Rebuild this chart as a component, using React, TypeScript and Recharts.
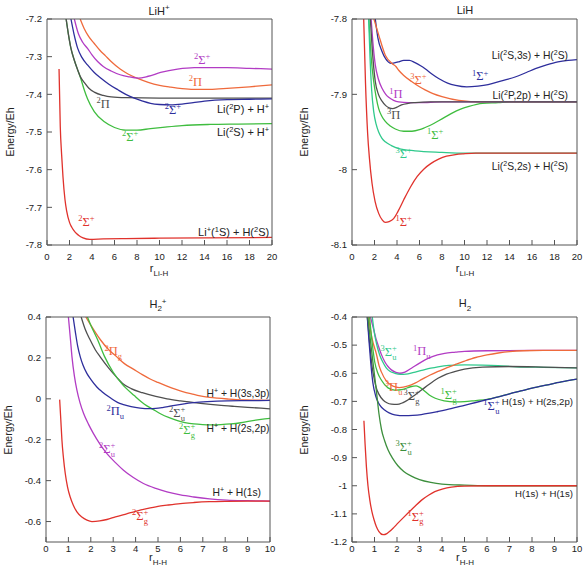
import React from 'react';
import { LineChart, Line, XAxis, YAxis, ReferenceDot } from 'recharts';

type Pt = [number, number];

// ---- LiH+ (r, E) ----
const lihpRed: Pt[] = [[1.07,-7.333],[1.18,-7.486],[1.3,-7.56],[1.42,-7.619],[1.6,-7.68],[1.75,-7.71],[2.0,-7.74],[2.2,-7.753],[2.5,-7.766],[2.8,-7.774],[3.2,-7.781],[3.8,-7.785],[5,-7.784],[7,-7.783],[10,-7.782],[14,-7.781],[20,-7.78]];
const lihpGreen: Pt[] = [[1.7,-7.2],[1.9,-7.24],[2.13,-7.278],[2.4,-7.307],[2.7,-7.333],[3.0,-7.358],[3.3,-7.387],[3.6,-7.412],[4.2,-7.446],[5.1,-7.473],[6.0,-7.488],[7.0,-7.495],[8.0,-7.495],[9.2,-7.491],[10.5,-7.487],[12,-7.483],[14.5,-7.48],[17,-7.479],[20,-7.478]];
const lihpGray: Pt[] = [[1.7,-7.2],[1.9,-7.24],[2.13,-7.278],[2.4,-7.307],[2.7,-7.333],[3.0,-7.355],[3.3,-7.368],[3.7,-7.383],[4.2,-7.394],[5,-7.403],[5.7,-7.407],[7,-7.409],[10,-7.41],[15,-7.41],[20,-7.41]];
const lihpBlue: Pt[] = [[2.13,-7.2],[2.4,-7.24],[2.73,-7.278],[3.1,-7.302],[3.6,-7.322],[4.2,-7.342],[4.8,-7.357],[5.5,-7.373],[6.3,-7.388],[7.0,-7.4],[7.76,-7.41],[8.5,-7.418],[9.2,-7.424],[10,-7.427],[11,-7.428],[12,-7.426],[13,-7.422],[14,-7.418],[16,-7.414],[18,-7.413],[20,-7.412]];
const lihpMagenta: Pt[] = [[2.43,-7.2],[2.8,-7.24],[3.2,-7.263],[3.6,-7.278],[4.0,-7.295],[4.5,-7.313],[5.0,-7.326],[5.7,-7.338],[6.5,-7.348],[7.2,-7.353],[8.1,-7.357],[9.0,-7.352],[10.1,-7.342],[11.6,-7.333],[13.1,-7.329],[16,-7.329],[18,-7.331],[20,-7.333]];
const lihpOrange: Pt[] = [[2.95,-7.2],[3.3,-7.225],[3.7,-7.246],[4.2,-7.265],[4.7,-7.283],[5.2,-7.298],[5.7,-7.313],[6.5,-7.333],[7.2,-7.346],[8.0,-7.357],[9.0,-7.368],[10,-7.376],[11,-7.381],[12,-7.385],[13,-7.387],[14,-7.387],[15,-7.386],[16,-7.384],[18,-7.38],[20,-7.375]];

// ---- LiH ----
const lihRed: Pt[] = [[1.04,-7.8],[1.2,-7.885],[1.39,-7.952],[1.55,-7.985],[1.78,-8.018],[2.05,-8.042],[2.37,-8.058],[2.7,-8.067],[2.96,-8.07],[3.3,-8.069],[3.7,-8.065],[4.1,-8.055],[4.6,-8.04],[5.2,-8.023],[5.8,-8.009],[6.4,-7.999],[7.0,-7.992],[7.7,-7.986],[8.4,-7.982],[9.2,-7.98],[9.9,-7.979],[11,-7.978],[20,-7.978]];
const lihTeal: Pt[] = [[1.48,-7.8],[1.6,-7.85],[1.75,-7.895],[1.93,-7.923],[2.15,-7.94],[2.37,-7.95],[2.65,-7.958],[2.96,-7.963],[3.5,-7.968],[4.15,-7.972],[5.6,-7.975],[8,-7.977],[10,-7.978],[20,-7.978]];
const lihGreen: Pt[] = [[1.5,-7.8],[1.7,-7.85],[1.93,-7.883],[2.15,-7.904],[2.37,-7.919],[2.65,-7.929],[2.96,-7.936],[3.4,-7.942],[3.85,-7.946],[4.6,-7.949],[5.33,-7.949],[6.0,-7.947],[6.5,-7.944],[7.1,-7.94],[7.7,-7.935],[8.3,-7.93],[8.9,-7.925],[9.6,-7.92],[10.4,-7.916],[11.6,-7.912],[13,-7.911],[14,-7.91],[20,-7.91]];
const lihGray: Pt[] = [[1.63,-7.8],[1.8,-7.84],[2.07,-7.883],[2.35,-7.9],[2.67,-7.909],[3.0,-7.915],[3.3,-7.918],[3.6,-7.919],[4.0,-7.917],[4.4,-7.914],[5.0,-7.912],[5.6,-7.911],[7,-7.91],[20,-7.91]];
const lihMagenta: Pt[] = [[1.7,-7.8],[1.85,-7.83],[2.07,-7.861],[2.35,-7.88],[2.67,-7.892],[3.0,-7.9],[3.26,-7.904],[3.7,-7.908],[4.15,-7.91],[5.0,-7.911],[6,-7.911],[8,-7.91],[20,-7.91]];
const lihOrange: Pt[] = [[1.95,-7.8],[2.37,-7.821],[2.96,-7.848],[3.56,-7.859],[3.9,-7.863],[4.15,-7.868],[4.6,-7.875],[5.3,-7.883],[6.0,-7.89],[6.5,-7.894],[7.2,-7.899],[8,-7.903],[9.5,-7.908],[11.6,-7.91],[20,-7.91]];
const lihBlue: Pt[] = [[2.07,-7.8],[2.3,-7.825],[2.67,-7.843],[3.0,-7.853],[3.5,-7.859],[4.1,-7.857],[4.6,-7.855],[5.1,-7.855],[5.6,-7.858],[6.1,-7.862],[6.5,-7.866],[7.1,-7.873],[7.7,-7.879],[8.5,-7.885],[9.2,-7.888],[10.2,-7.89],[11.2,-7.889],[12.1,-7.887],[13.3,-7.882],[14.5,-7.877],[15.5,-7.871],[16.3,-7.866],[17.3,-7.861],[18.3,-7.857],[19.2,-7.855],[20,-7.854]];

// ---- H2+ ----
const h2pRed: Pt[] = [[0.61,-0.004],[0.66,-0.1],[0.71,-0.2],[0.78,-0.29],[0.86,-0.365],[0.96,-0.43],[1.08,-0.48],[1.22,-0.52],[1.38,-0.553],[1.6,-0.578],[1.83,-0.593],[2.05,-0.6],[2.4,-0.597],[2.72,-0.59],[3.1,-0.577],[3.6,-0.562],[4.0,-0.55],[4.5,-0.537],[5.0,-0.526],[5.4,-0.52],[6.0,-0.512],[6.6,-0.507],[7.3,-0.503],[8.1,-0.501],[9,-0.5],[10,-0.5]];
const h2pMagenta: Pt[] = [[1.0,0.4],[1.1,0.28],[1.16,0.205],[1.27,0.11],[1.38,0.042],[1.52,-0.02],[1.68,-0.072],[1.9,-0.125],[2.12,-0.17],[2.4,-0.22],[2.72,-0.268],[3.1,-0.312],[3.46,-0.349],[3.9,-0.385],[4.35,-0.414],[4.9,-0.438],[5.4,-0.455],[6.0,-0.47],[6.6,-0.48],[7.3,-0.489],[8.07,-0.495],[9,-0.498],[10,-0.5]];
const h2pBlue: Pt[] = [[1.21,0.4],[1.32,0.32],[1.41,0.26],[1.53,0.205],[1.65,0.165],[1.83,0.123],[2.0,0.095],[2.27,0.058],[2.5,0.035],[2.87,0.005],[3.19,-0.017],[3.46,-0.028],[3.8,-0.038],[4.2,-0.045],[4.6,-0.048],[4.9,-0.047],[5.2,-0.043],[5.6,-0.035],[6.1,-0.026],[6.6,-0.019],[7.2,-0.014],[8.1,-0.01],[9,-0.009],[10,-0.008]];
const h2pGray: Pt[] = [[1.57,0.4],[1.75,0.34],[1.98,0.286],[2.2,0.24],[2.42,0.205],[2.8,0.15],[3.16,0.105],[3.42,0.075],[3.8,0.05],[4.3,0.03],[4.9,0.012],[5.4,0.0],[6.0,-0.01],[6.9,-0.022],[7.7,-0.031],[8.4,-0.037],[9.2,-0.043],[10,-0.049]];
const h2pGreen: Pt[] = [[1.85,0.4],[2.0,0.36],[2.3,0.29],[2.6,0.21],[3.0,0.13],[3.4,0.072],[3.94,0.016],[4.38,-0.025],[4.8,-0.053],[5.13,-0.074],[5.5,-0.092],[5.87,-0.107],[6.2,-0.116],[6.6,-0.123],[7.0,-0.126],[7.36,-0.127],[7.8,-0.126],[8.25,-0.123],[8.7,-0.117],[9.1,-0.109],[9.6,-0.101],[10,-0.096]];
const h2pOrange: Pt[] = [[1.78,0.4],[2.0,0.36],[2.42,0.29],[2.8,0.24],[3.16,0.205],[3.5,0.172],[3.9,0.145],[4.3,0.118],[4.65,0.097],[5.0,0.08],[5.4,0.062],[5.8,0.046],[6.14,0.034],[6.5,0.024],[6.88,0.014],[7.3,0.007],[7.65,0.003],[8.1,-0.001],[8.5,-0.004],[9.2,-0.006],[10,-0.008]];

// ---- H2 ----
const h2Red: Pt[] = [[0.53,-0.769],[0.58,-0.85],[0.64,-0.932],[0.71,-1.0],[0.79,-1.05],[0.88,-1.09],[0.98,-1.121],[1.08,-1.145],[1.19,-1.162],[1.38,-1.174],[1.55,-1.17],[1.68,-1.162],[1.85,-1.149],[2.04,-1.133],[2.25,-1.116],[2.49,-1.097],[2.8,-1.073],[3.08,-1.052],[3.4,-1.034],[3.68,-1.021],[4.05,-1.011],[4.42,-1.005],[5.0,-1.001],[6,-1.0],[10,-1.0]];
const h2DarkGreen: Pt[] = [[0.7,-0.4],[0.8,-0.47],[0.93,-0.56],[1.08,-0.66],[1.2,-0.745],[1.31,-0.8],[1.45,-0.84],[1.6,-0.872],[1.8,-0.902],[2.04,-0.929],[2.3,-0.949],[2.64,-0.966],[3.0,-0.978],[3.5,-0.988],[4.0,-0.994],[5,-0.998],[6,-1.0],[10,-1.0]];
const h2Green: Pt[] = [[0.78,-0.4],[0.88,-0.48],[1.01,-0.56],[1.15,-0.6],[1.31,-0.625],[1.6,-0.652],[1.9,-0.66],[2.27,-0.657],[2.6,-0.648],[2.85,-0.645],[3.05,-0.652],[3.25,-0.665],[3.45,-0.678],[3.7,-0.689],[4.1,-0.698],[4.6,-0.702],[5.0,-0.701],[5.5,-0.697],[6.0,-0.693],[6.5,-0.684],[7,-0.673],[7.5,-0.663],[8,-0.653],[8.7,-0.641],[9.3,-0.631],[10,-0.621]];
const h2Gray: Pt[] = [[0.68,-0.4],[0.78,-0.49],[0.9,-0.58],[1.0,-0.625],[1.08,-0.652],[1.2,-0.675],[1.38,-0.695],[1.55,-0.705],[1.75,-0.71],[2.0,-0.711],[2.25,-0.705],[2.5,-0.694],[2.8,-0.677],[3.1,-0.659],[3.45,-0.638],[3.82,-0.618],[4.2,-0.603],[4.56,-0.594],[5.0,-0.585],[5.8,-0.578],[7,-0.576],[8.5,-0.578],[10,-0.581]];
const h2Blue: Pt[] = [[0.68,-0.4],[0.75,-0.48],[0.83,-0.56],[0.93,-0.635],[1.05,-0.68],[1.16,-0.703],[1.3,-0.72],[1.45,-0.731],[1.65,-0.741],[1.9,-0.748],[2.34,-0.751],[2.7,-0.75],[3.08,-0.747],[3.45,-0.742],[3.82,-0.736],[4.4,-0.726],[5,-0.714],[5.5,-0.704],[6,-0.694],[6.5,-0.684],[7,-0.673],[7.5,-0.663],[8,-0.653],[8.7,-0.641],[9.3,-0.631],[10,-0.621]];
const h2Orange: Pt[] = [[0.74,-0.4],[0.85,-0.46],[0.95,-0.495],[1.08,-0.53],[1.2,-0.572],[1.31,-0.596],[1.53,-0.628],[1.82,-0.646],[2.1,-0.651],[2.5,-0.645],[2.8,-0.635],[3.1,-0.622],[3.45,-0.607],[3.8,-0.594],[4.2,-0.581],[4.56,-0.57],[5.0,-0.557],[5.5,-0.544],[6.0,-0.535],[6.5,-0.528],[7.0,-0.523],[7.6,-0.52],[8.5,-0.519],[10,-0.519]];
const h2Teal: Pt[] = [[0.9,-0.4],[1.01,-0.464],[1.12,-0.505],[1.23,-0.535],[1.38,-0.562],[1.53,-0.582],[1.7,-0.594],[1.9,-0.6],[2.15,-0.604],[2.4,-0.603],[2.7,-0.598],[3.1,-0.59],[3.5,-0.582],[3.82,-0.577],[4.3,-0.572],[5,-0.57],[5.8,-0.571],[6.5,-0.573],[7.3,-0.577],[8.5,-0.579],[10,-0.581]];
const h2Magenta: Pt[] = [[0.82,-0.4],[0.95,-0.44],[1.06,-0.475],[1.16,-0.5],[1.3,-0.532],[1.45,-0.558],[1.6,-0.576],[1.75,-0.588],[1.95,-0.597],[2.12,-0.6],[2.35,-0.596],[2.64,-0.582],[3.0,-0.564],[3.38,-0.547],[3.8,-0.535],[4.12,-0.529],[4.6,-0.525],[5,-0.522],[6,-0.52],[8,-0.519],[10,-0.519]];

// ---- axes ----
const rTicks20 = [0, 2, 4, 6, 8, 10, 12, 14, 16, 18, 20];
const rTicks10 = [0, 1, 2, 3, 4, 5, 6, 7, 8, 9, 10];
const lihpTicks = [-7.8, -7.7, -7.6, -7.5, -7.4, -7.3, -7.2];
const lihTicks = [-8.1, -8, -7.9, -7.8];
const h2pTicks = [-0.6, -0.4, -0.2, 0, 0.2, 0.4];
const h2Ticks = [-1.2, -1.1, -1, -0.9, -0.8, -0.7, -0.6, -0.5, -0.4];

const RED = '#e0322c';
const ORANGE = '#ef6a3c';
const MAGENTA = '#b23cc4';
const BLUE = '#2e2e9c';
const GRAY = '#4f4f4f';
const GREEN = '#3fbd3f';
const TEAL = '#30c98c';
const DKGREEN = '#3d8f3d';
const AXIS = '#555';
const SANS = '"Liberation Sans", Arial, sans-serif';
const SERIF = '"Liberation Serif", "Times New Roman", serif';

type Seg = [string, 'n' | 'sup' | 'sub', number?];
type Note = { x: number; y: number; segs: Seg[]; color?: string; serif?: boolean; anchor?: 'middle' | 'end' };

// term symbol like ²Σg⁺
const st = (m: string, sym: string, sub = '', sup = ''): Seg[] => {
  const s: Seg[] = [[m, 'sup'], [sym, 'n']];
  if (sup) s.push([sup, 'sup']);
  if (sub) s.push([sub, 'sub', sup ? -4.5 : 0]);
  return s;
};

const Rich = ({ x, y, segs, color = '#222', serif, anchor = 'middle', size }: any) => {
  const fs = serif ? 12.5 : size;
  let shift = 0;
  return (
    <text x={x} y={y + 4} textAnchor={anchor} fill={color} fontFamily={serif ? SERIF : SANS} fontSize={fs}>
      {segs.map(([t, k, dx]: Seg, i: number) => {
        const target = k === 'sup' ? -fs * 0.38 : k === 'sub' ? fs * 0.3 : 0;
        const dy = target - shift;
        shift = target;
        return (
          <tspan key={i} dy={dy} dx={dx || 0} fontSize={k === 'n' ? fs : fs * 0.68}>
            {t}
          </tspan>
        );
      })}
    </text>
  );
};

const lihpNotes: Note[] = [
  { x: 13.8, y: -7.309, segs: st('2', 'Σ', '', '+'), color: MAGENTA, serif: true },
  { x: 13.2, y: -7.367, segs: st('2', 'Π'), color: ORANGE, serif: true },
  { x: 5.0, y: -7.426, segs: st('2', 'Π'), color: GRAY, serif: true },
  { x: 11.2, y: -7.442, segs: st('2', 'Σ', '', '+'), color: BLUE, serif: true },
  { x: 7.4, y: -7.513, segs: st('2', 'Σ', '', '+'), color: GREEN, serif: true },
  { x: 3.5, y: -7.739, segs: st('2', 'Σ', '', '+'), color: RED, serif: true },
  { x: 19.75, y: -7.439, segs: [['Li(', 'n'], ['2', 'sup'], ['P) + H', 'n'], ['+', 'sup']], anchor: 'end' },
  { x: 19.75, y: -7.5, segs: [['Li(', 'n'], ['2', 'sup'], ['S) + H', 'n'], ['+', 'sup']], anchor: 'end' },
  { x: 19.75, y: -7.765, segs: [['Li', 'n'], ['+', 'sup'], ['(', 'n'], ['1', 'sup'], ['S) + H(', 'n'], ['2', 'sup'], ['S)', 'n']], anchor: 'end' },
];

const lihNotes: Note[] = [
  { x: 11.4, y: -7.876, segs: st('1', 'Σ', '', '+'), color: BLUE, serif: true },
  { x: 5.9, y: -7.881, segs: st('3', 'Σ', '', '+'), color: ORANGE, serif: true },
  { x: 3.9, y: -7.9, segs: st('1', 'Π'), color: MAGENTA, serif: true },
  { x: 3.7, y: -7.927, segs: st('3', 'Π'), color: GRAY, serif: true },
  { x: 7.4, y: -7.954, segs: st('1', 'Σ', '', '+'), color: GREEN, serif: true },
  { x: 4.6, y: -7.979, segs: st('3', 'Σ', '', '+'), color: TEAL, serif: true },
  { x: 4.6, y: -8.069, segs: st('1', 'Σ', '', '+'), color: RED, serif: true },
  { x: 19.2, y: -7.848, segs: [['Li(', 'n'], ['2', 'sup'], ['S,3s) + H(', 'n'], ['2', 'sup'], ['S)', 'n']], anchor: 'end' },
  { x: 19.2, y: -7.901, segs: [['Li(', 'n'], ['2', 'sup'], ['P,2p) + H(', 'n'], ['2', 'sup'], ['S)', 'n']], anchor: 'end' },
  { x: 19.2, y: -7.995, segs: [['Li(', 'n'], ['2', 'sup'], ['S,2s) + H(', 'n'], ['2', 'sup'], ['S)', 'n']], anchor: 'end' },
];

const h2pNotes: Note[] = [
  { x: 3.0, y: 0.232, segs: st('2', 'Π', 'g'), color: ORANGE, serif: true },
  { x: 3.09, y: -0.061, segs: st('2', 'Π', 'u'), color: BLUE, serif: true },
  { x: 5.85, y: -0.07, segs: st('2', 'Σ', 'u', '+'), color: GRAY, serif: true },
  { x: 6.3, y: -0.153, segs: st('2', 'Σ', 'g', '+'), color: GREEN, serif: true },
  { x: 2.73, y: -0.246, segs: st('2', 'Σ', 'u', '+'), color: MAGENTA, serif: true },
  { x: 4.2, y: -0.574, segs: st('2', 'Σ', 'g', '+'), color: RED, serif: true },
  { x: 9.97, y: 0.027, segs: [['H', 'n'], ['+', 'sup'], [' + H(3s,3p)', 'n']], anchor: 'end' },
  { x: 9.97, y: -0.144, segs: [['H', 'n'], ['+', 'sup'], [' + H(2s,2p)', 'n']], anchor: 'end' },
  { x: 9.6, y: -0.456, segs: [['H', 'n'], ['+', 'sup'], [' + H(1s)', 'n']], anchor: 'end' },
];

const h2Notes: Note[] = [
  { x: 1.63, y: -0.525, segs: st('3', 'Σ', 'u', '+'), color: TEAL, serif: true },
  { x: 3.1, y: -0.522, segs: st('1', 'Π', 'u'), color: MAGENTA, serif: true },
  { x: 1.85, y: -0.649, segs: st('3', 'Π', 'u'), color: ORANGE, serif: true },
  { x: 2.65, y: -0.681, segs: st('3', 'Σ', 'g', '+'), color: GRAY, serif: true },
  { x: 4.3, y: -0.678, segs: st('1', 'Σ', 'g', '+'), color: GREEN, serif: true },
  { x: 6.2, y: -0.717, segs: st('1', 'Σ', 'u', '+'), color: BLUE, serif: true },
  { x: 2.3, y: -0.862, segs: st('3', 'Σ', 'u', '+'), color: DKGREEN, serif: true },
  { x: 2.83, y: -1.11, segs: st('1', 'Σ', 'g', '+'), color: RED, serif: true },
  { x: 9.82, y: -0.699, segs: [['H(1s) + H(2s,2p)', 'n']], anchor: 'end' },
  { x: 9.82, y: -1.026, segs: [['H(1s) + H(1s)', 'n']], anchor: 'end' },
];

const toRows = (pts: Pt[]) => pts.map(([r, e]) => ({ r, e }));
const tickStyle = { fontSize: 9.5, fill: '#222', fontFamily: SANS };

type PanelProps = {
  left: number; top: number; w: number; h: number;
  margin: { top: number; right: number; bottom: number; left: number };
  yW: number; xDom: number[]; xTicks: number[]; yDom: number[]; yTicks: number[];
  curves: { pts: Pt[]; color: string }[]; notes: Note[]; textSize: number; xGap: number;
};

const Panel = ({ left, top, w, h, margin, yW, xDom, xTicks, yDom, yTicks, curves, notes, textSize, xGap }: PanelProps) => (
  <div style={{ position: 'absolute', left, top }}>
    <LineChart width={w} height={h} margin={margin}>
      <XAxis xAxisId={0} dataKey="r" type="number" domain={xDom} ticks={xTicks} interval={0} allowDataOverflow
        height={30} tickSize={-5} tickMargin={xGap} tick={tickStyle} stroke={AXIS} />
      <XAxis xAxisId="top" orientation="top" dataKey="r" type="number" domain={xDom} ticks={xTicks} interval={0}
        allowDataOverflow height={1} tickSize={-5} tick={false} stroke={AXIS} />
      <YAxis yAxisId={0} type="number" domain={yDom} ticks={yTicks} interval={0} allowDataOverflow width={yW}
        tickSize={-5} tickMargin={10} tick={tickStyle} stroke={AXIS} tickFormatter={(v: number) => String(v)} />
      <YAxis yAxisId="right" orientation="right" type="number" domain={yDom} ticks={yTicks} interval={0}
        allowDataOverflow width={1} tickSize={-5} tick={false} stroke={AXIS} />
      {curves.map((c, i) => (
        <Line key={i} data={toRows(c.pts)} dataKey="e" xAxisId={0} yAxisId={0} type="monotone" stroke={c.color}
          strokeWidth={1.3} dot={false} activeDot={false} isAnimationActive={false} />
      ))}
      {notes.map((n, i) => (
        <ReferenceDot key={'n' + i} x={n.x} y={n.y} r={0} xAxisId={0} yAxisId={0} ifOverflow="visible"
          shape={(p: any) => (
            <Rich x={p.cx} y={p.cy} segs={n.segs} color={n.color} serif={n.serif} anchor={n.anchor} size={textSize} />
          )} />
      ))}
    </LineChart>
  </div>
);

const Tag = ({ x, y, rot, size = 11, children }: any) => (
  <div style={{
    position: 'absolute', left: x, top: y, whiteSpace: 'nowrap', lineHeight: 1,
    transform: `translate(-50%, -50%)${rot ? ' rotate(-90deg)' : ''}`,
    font: `${size}px ${SANS}`, color: '#222',
  }}>{children}</div>
);

const sm = { fontSize: 8 };

export default function App() {
  return (
    <div style={{ position: 'absolute', left: 0, top: 0, width: 588, height: 577, background: '#fff', overflow: 'hidden' }}>
      <Panel left={0} top={0} w={294} h={290} margin={{ top: 18, right: 21, bottom: 15, left: 0 }} yW={47}
        xDom={[0, 20]} xTicks={rTicks20} yDom={[-7.8, -7.2]} yTicks={lihpTicks} notes={lihpNotes} textSize={11} xGap={13}
        curves={[
          { pts: lihpOrange, color: ORANGE }, { pts: lihpMagenta, color: MAGENTA }, { pts: lihpGreen, color: GREEN },
          { pts: lihpGray, color: GRAY }, { pts: lihpBlue, color: BLUE }, { pts: lihpRed, color: RED },
        ]} />
      <Panel left={294} top={0} w={294} h={290} margin={{ top: 18, right: 10, bottom: 15, left: 0 }} yW={58}
        xDom={[0, 20]} xTicks={rTicks20} yDom={[-8.1, -7.8]} yTicks={lihTicks} notes={lihNotes} textSize={10.3} xGap={13}
        curves={[
          { pts: lihBlue, color: BLUE }, { pts: lihOrange, color: ORANGE }, { pts: lihGreen, color: GREEN },
          { pts: lihMagenta, color: MAGENTA }, { pts: lihGray, color: GRAY }, { pts: lihTeal, color: TEAL },
          { pts: lihRed, color: RED },
        ]} />
      <Panel left={0} top={290} w={294} h={287} margin={{ top: 26, right: 23, bottom: 5, left: 0 }} yW={46}
        xDom={[0, 10]} xTicks={rTicks10} yDom={[-0.7, 0.4]} yTicks={h2pTicks} notes={h2pNotes} textSize={10.3} xGap={8}
        curves={[
          { pts: h2pOrange, color: ORANGE }, { pts: h2pGray, color: GRAY }, { pts: h2pGreen, color: GREEN },
          { pts: h2pBlue, color: BLUE }, { pts: h2pMagenta, color: MAGENTA }, { pts: h2pRed, color: RED },
        ]} />
      <Panel left={294} top={290} w={294} h={287} margin={{ top: 26, right: 10, bottom: 5, left: 0 }} yW={58}
        xDom={[0, 10]} xTicks={rTicks10} yDom={[-1.2, -0.4]} yTicks={h2Ticks} notes={h2Notes} textSize={9.6} xGap={8}
        curves={[
          { pts: h2Magenta, color: MAGENTA }, { pts: h2Teal, color: TEAL }, { pts: h2Orange, color: ORANGE },
          { pts: h2Green, color: GREEN }, { pts: h2Gray, color: GRAY }, { pts: h2Blue, color: BLUE },
          { pts: h2DarkGreen, color: DKGREEN }, { pts: h2Red, color: RED },
        ]} />

      <Tag x={159} y={10}>LiH<sup style={sm}>+</sup></Tag>
      <Tag x={465} y={10}>LiH</Tag>
      <Tag x={158} y={305}>H<sub style={sm}>2</sub><sup style={sm}>+</sup></Tag>
      <Tag x={465} y={305}>H<sub style={sm}>2</sub></Tag>

      <Tag x={159} y={270}>r<sub style={sm}>Li-H</sub></Tag>
      <Tag x={465} y={270}>r<sub style={sm}>Li-H</sub></Tag>
      <Tag x={158} y={559}>r<sub style={sm}>H-H</sub></Tag>
      <Tag x={465} y={559}>r<sub style={sm}>H-H</sub></Tag>

      <Tag x={10} y={132} rot size={10.5}>Energy/Eh</Tag>
      <Tag x={304} y={132} rot size={10.5}>Energy/Eh</Tag>
      <Tag x={8} y={430} rot size={10.5}>Energy/Eh</Tag>
      <Tag x={304} y={430} rot size={10.5}>Energy/Eh</Tag>
    </div>
  );
}
